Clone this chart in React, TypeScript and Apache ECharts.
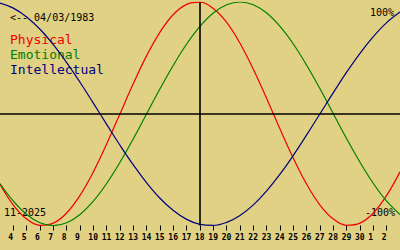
import React, { useEffect, useRef } from "react";
import * as echarts from "echarts";

const days = [3, 4, 5, 6, 7, 8, 9, 10, 11, 12, 13, 14, 15, 16, 17, 18, 19, 20, 21, 22, 23, 24, 25, 26, 27, 28, 29, 30, 31, 32, 33];
const physical = [-0.631, -0.817, -0.942, -0.998, -0.979, -0.888, -0.731, -0.52, -0.27, 0, 0.27, 0.52, 0.731, 0.888, 0.979, 0.998, 0.942, 0.817, 0.631, 0.398, 0.136, -0.136, -0.398, -0.631, -0.817, -0.942, -0.998, -0.979, -0.888, -0.731, -0.52];
const emotional = [-0.624, -0.782, -0.901, -0.975, -1, -0.975, -0.901, -0.782, -0.624, -0.434, -0.223, 0, 0.223, 0.434, 0.624, 0.782, 0.901, 0.975, 1, 0.975, 0.901, 0.782, 0.624, 0.434, 0.223, 0, -0.223, -0.434, -0.624, -0.782, -0.901];
const intellectual = [0.99, 0.945, 0.866, 0.756, 0.618, 0.458, 0.282, 0.095, -0.095, -0.282, -0.458, -0.618, -0.756, -0.866, -0.945, -0.99, -0.999, -0.972, -0.91, -0.815, -0.69, -0.541, -0.372, -0.189, 0, 0.189, 0.372, 0.541, 0.69, 0.815, 0.91];
const tickDays = [4, 5, 6, 7, 8, 9, 10, 11, 12, 13, 14, 15, 16, 17, 18, 19, 20, 21, 22, 23, 24, 25, 26, 27, 28, 29, 30, 31, 32];
const tickLabels = ["4", "5", "6", "7", "8", "9", "10", "11", "12", "13", "14", "15", "16", "17", "18", "19", "20", "21", "22", "23", "24", "25", "26", "27", "28", "29", "30", "1", "2"];
const today = 18;
const birthText = "<-- 04/03/1983";
const monthText = "11-2025";
const seriesNames = ["Physical", "Emotional", "Intellectual"];

const RED = "#f00000";
const GREEN = "#008000";
const BLUE = "#000080";
const MONO = "'DejaVu Sans Mono', monospace";

export default function App() {
  const ref = useRef<HTMLDivElement>(null);
  useEffect(() => {
    const chart = echarts.init(ref.current!, null, { renderer: "svg" });
    const mk = (name: string, vals: number[], color: string) => ({
      name,
      type: "line",
      data: days.map((d, i) => [d, vals[i]]),
      smooth: 0.4,
      showSymbol: false,
      lineStyle: { color, width: 1.2 },
      itemStyle: { color },
    });
    const phys: any = mk(seriesNames[0], physical, RED);
    phys.markLine = {
      silent: true,
      symbol: "none",
      label: { show: false },
      lineStyle: { color: "#000", width: 1.6, type: "solid" },
      data: [{ xAxis: today }, { yAxis: 0 }],
    };
    chart.setOption({
      animation: false,
      backgroundColor: "#e0d184",
      grid: { left: 0, right: 0, top: 2, bottom: 24.5 },
      xAxis: {
        type: "value",
        position: "bottom",
        min: days[0],
        max: days[days.length - 1],
        interval: 1,
        axisLine: { show: false, onZero: false },
        splitLine: { show: false },
        axisTick: {
          show: true,
          length: 5,
          lineStyle: { color: "#000", width: 1 },
          customValues: tickDays,
        },
        axisLabel: {
          show: true,
          customValues: tickDays,
          margin: 8,
          align: "left",
          padding: [0, 0, 0, -5],
          color: "#000",
          fontFamily: MONO,
          fontWeight: "bold",
          fontSize: 8,
          formatter: (v: number) => tickLabels[tickDays.indexOf(v)] ?? "",
        },
      },
      yAxis: {
        type: "value",
        min: -1,
        max: 1,
        show: false,
        splitLine: { show: false },
      },
      graphic: [
        { type: "text", style: { text: birthText, x: 10, y: 17.5, fill: "#000", font: `10px ${MONO}`, verticalAlign: "middle", align: "left" } },
        { type: "text", style: { text: seriesNames[0], x: 10, y: 39, fill: RED, font: `13px ${MONO}`, verticalAlign: "middle", align: "left" } },
        { type: "text", style: { text: seriesNames[1], x: 10, y: 54, fill: GREEN, font: `13px ${MONO}`, verticalAlign: "middle", align: "left" } },
        { type: "text", style: { text: seriesNames[2], x: 10, y: 69, fill: BLUE, font: `13px ${MONO}`, verticalAlign: "middle", align: "left" } },
        { type: "text", style: { text: "100%", x: 394, y: 12.5, fill: "#000", font: `10px ${MONO}`, verticalAlign: "middle", align: "right" } },
        { type: "text", style: { text: "-100%", x: 395, y: 212.5, fill: "#000", font: `10px ${MONO}`, verticalAlign: "middle", align: "right" } },
        { type: "text", style: { text: monthText, x: 4, y: 212.5, fill: "#000", font: `10px ${MONO}`, verticalAlign: "middle", align: "left" } },
      ],
      series: [phys, mk(seriesNames[1], emotional, GREEN), mk(seriesNames[2], intellectual, BLUE)],
    });
    return () => chart.dispose();
  }, []);
  return <div ref={ref} style={{ width: 400, height: 250, position: "absolute", left: 0, top: 0 }} />;
}
